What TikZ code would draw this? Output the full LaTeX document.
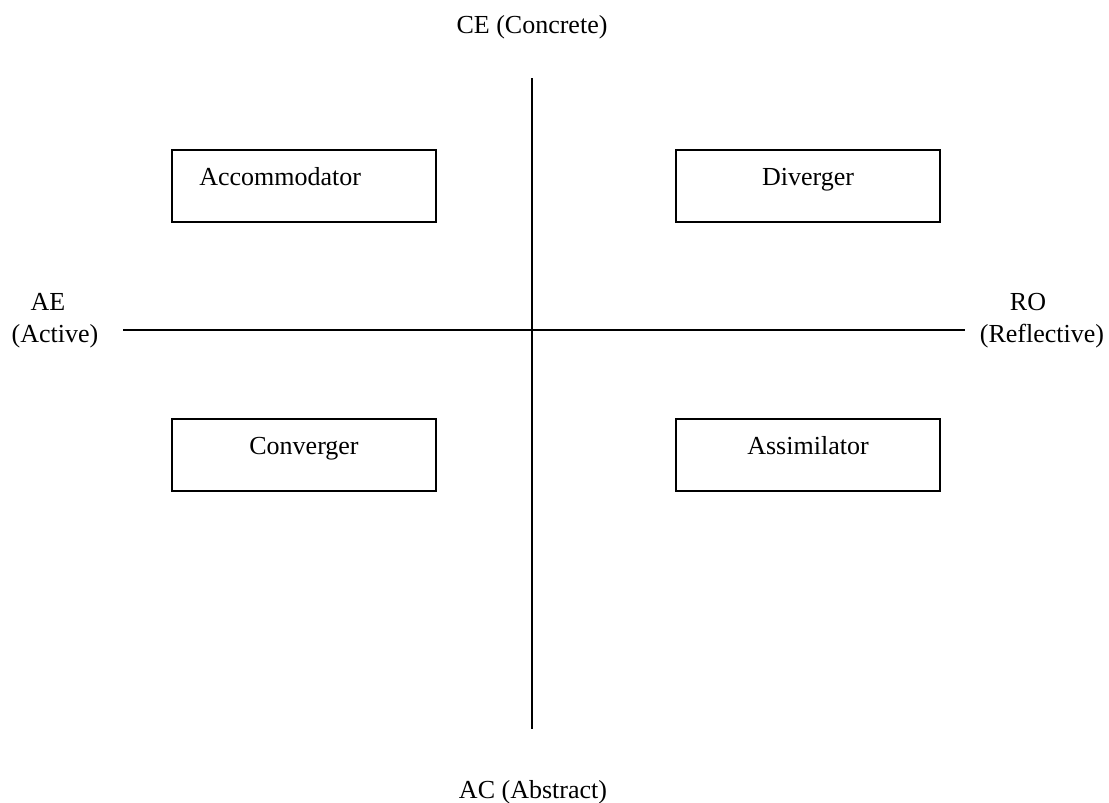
\documentclass[tikz,border=0pt]{standalone}
\usepackage{fontspec}
\setmainfont{Liberation Serif}

\begin{document}
\begin{tikzpicture}[x=0.5pt,y=-0.5pt,font=\fontsize{13}{15}\selectfont,
  quadbox/.style={draw,line width=0.7pt,minimum width=132pt,minimum height=36pt,inner sep=0pt},
  axisline/.style={line width=1pt}]
\useasboundingbox (0,0) rectangle (1109,803);
% axes
\coordinate (top) at (532,78);
\coordinate (bot) at (532,729);
\coordinate (lft) at (123,330);
\coordinate (rgt) at (965,330);
\draw[axisline] (top) -- (bot);
\draw[axisline] (lft) -- (rgt);
\node[anchor=base] (ce) at (532,33) {CE (Concrete)};
\node[anchor=base] (ac) at (533,798) {AC (Abstract)};
\node[anchor=base] (ae) at (48,310) {AE};
\node[anchor=base] (act) at (55,342) {(Active)};
\node[anchor=base] (ro) at (1028,310) {RO};
\node[anchor=base] (refl) at (1042,342) {(Reflective)};
% quadrants
\foreach \name/\x/\y in {acc/304/186,div/808/186,con/304/455,ass/808/455}
\node[quadbox] (\name) at (\x,\y) {};
\node[anchor=base west] (acctxt) at ([xshift=10.5pt,yshift=-18pt]acc.north west) {Accommodator};
\foreach \name/\txt in {div/Diverger,con/Converger,ass/Assimilator}
\node[anchor=base] (\name txt) at ([yshift=-18pt]\name.north) {\txt};
\end{tikzpicture}
\end{document}
